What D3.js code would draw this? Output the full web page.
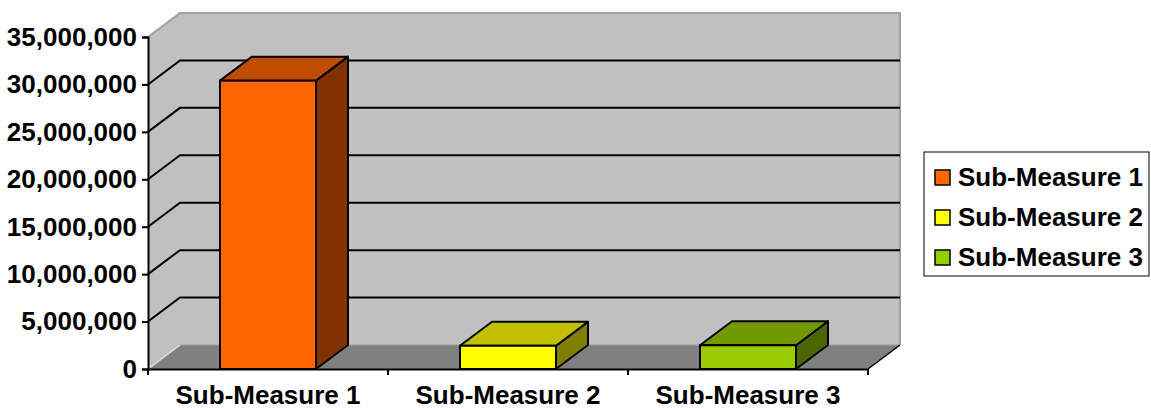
<!DOCTYPE html>
<html>
<head>
<meta charset="utf-8">
<script src="https://cdn.jsdelivr.net/npm/d3@7"></script>
<style>
  body { margin: 0; background: #ffffff; }
  text { font-family: "Liberation Sans", Arial, sans-serif; font-weight: bold; }
</style>
</head>
<body>
<div id="chart"></div>
<script>
// chart data
var categories = ['Sub-Measure 1', 'Sub-Measure 2', 'Sub-Measure 3'];
var values = [30400000, 2450000, 2500000];
var yTicks = [0, 5000000, 10000000, 15000000, 20000000, 25000000, 30000000, 35000000];

// colours: front, top, side
var colors = [
  {front: '#FF6600', top: '#C04C00', side: '#803300'},
  {front: '#FFFF00', top: '#C0C000', side: '#808000'},
  {front: '#99CC00', top: '#739900', side: '#4D6600'}
];

var width = 1151, height = 409;
var plotLeft = 148, plotRight = 868, plotBottom = 369, plotTop = 37;
var dx = 32, dy = -24;   // depth offset of the 3D box
var fontSize = '26px';

var svg = d3.select('#chart').append('svg')
  .attr('width', width)
  .attr('height', height);

var x = d3.scaleBand().domain(categories).range([plotLeft, plotRight])
  .paddingInner(0.6).paddingOuter(0.3);
var y = d3.scaleLinear().domain([0, 35000000]).range([plotBottom, plotTop]);

function pts(a) { return a.map(function(p) { return p.join(','); }).join(' '); }

var yMax = y(35000000);

// left side wall
svg.append('polygon')
  .attr('points', pts([[plotLeft, yMax], [plotLeft + dx, yMax + dy], [plotLeft + dx, plotBottom + dy], [plotLeft, plotBottom]]))
  .attr('fill', '#C0C0C0');

// back wall
svg.append('polygon')
  .attr('points', pts([[plotLeft + dx, yMax + dy], [plotRight + dx, yMax + dy], [plotRight + dx, plotBottom + dy], [plotLeft + dx, plotBottom + dy]]))
  .attr('fill', '#C0C0C0');

// floor
svg.append('polygon')
  .attr('points', pts([[plotLeft, plotBottom], [plotLeft + dx, plotBottom + dy], [plotRight + dx, plotBottom + dy], [plotRight, plotBottom]]))
  .attr('fill', '#808080');

// wall edges
svg.append('polyline')
  .attr('points', pts([[plotLeft, yMax], [plotLeft + dx, yMax + dy], [plotRight + dx, yMax + dy], [plotRight + dx, plotBottom + dy]]))
  .attr('fill', 'none').attr('stroke', '#A0A0A0').attr('stroke-width', 2);
svg.append('line')
  .attr('x1', plotLeft).attr('y1', plotBottom).attr('x2', plotLeft + dx).attr('y2', plotBottom + dy)
  .attr('stroke', '#E0E0E0').attr('stroke-width', 1.5);
svg.append('line')
  .attr('x1', plotLeft + dx).attr('y1', plotBottom + dy).attr('x2', plotRight + dx).attr('y2', plotBottom + dy)
  .attr('stroke', '#A0A0A0').attr('stroke-width', 1);
svg.append('line')
  .attr('x1', plotRight).attr('y1', plotBottom).attr('x2', plotRight + dx).attr('y2', plotBottom + dy)
  .attr('stroke', '#000').attr('stroke-width', 1.5);

// gridlines on side and back wall
var grid = yTicks.filter(function(d) { return d > 0 && d < 35000000; });
svg.append('g').selectAll('polyline')
  .data(grid)
  .enter().append('polyline')
  .attr('points', function(d) {
    return pts([[plotLeft, y(d)], [plotLeft + dx, y(d) + dy], [plotRight + dx, y(d) + dy]]);
  })
  .attr('fill', 'none')
  .attr('stroke', '#000')
  .attr('stroke-width', 2);

// bars
var bars = svg.append('g').selectAll('g')
  .data(values)
  .enter().append('g');

bars.append('polygon')
  .attr('points', function(d, i) {
    var x0 = x(categories[i]), x1 = x0 + x.bandwidth();
    return pts([[x1, y(d)], [x1 + dx, y(d) + dy], [x1 + dx, plotBottom + dy], [x1, plotBottom]]);
  })
  .attr('fill', function(d, i) { return colors[i].side; })
  .attr('stroke', '#000').attr('stroke-width', 2).attr('stroke-linejoin', 'round');

bars.append('polygon')
  .attr('points', function(d, i) {
    var x0 = x(categories[i]), x1 = x0 + x.bandwidth();
    return pts([[x0, y(d)], [x0 + dx, y(d) + dy], [x1 + dx, y(d) + dy], [x1, y(d)]]);
  })
  .attr('fill', function(d, i) { return colors[i].top; })
  .attr('stroke', '#000').attr('stroke-width', 2).attr('stroke-linejoin', 'round');

bars.append('rect')
  .attr('x', function(d, i) { return x(categories[i]); })
  .attr('y', function(d) { return y(d); })
  .attr('width', x.bandwidth())
  .attr('height', function(d) { return plotBottom - y(d); })
  .attr('fill', function(d, i) { return colors[i].front; })
  .attr('stroke', '#000').attr('stroke-width', 2);

// y axis
var yAxis = svg.append('g')
  .attr('transform', 'translate(' + plotLeft + ',0)')
  .call(d3.axisLeft(y).tickValues(yTicks).tickSize(6).tickPadding(5)
    .tickFormat(d3.format(',')));
yAxis.select('.domain').attr('stroke', '#000').attr('stroke-width', 2);
yAxis.selectAll('.tick line').attr('stroke', '#000').attr('stroke-width', 2);
yAxis.selectAll('text')
  .style('font-size', fontSize)
  .style('font-weight', 'bold')
  .attr('fill', '#000');

// x axis with ticks at category boundaries
var xAxis = svg.append('g')
  .attr('transform', 'translate(0,' + plotBottom + ')')
  .call(d3.axisBottom(x).tickSize(0).tickPadding(17));
xAxis.select('.domain').attr('stroke', '#000').attr('stroke-width', 2);
xAxis.selectAll('text')
  .style('font-size', fontSize)
  .style('font-weight', 'bold')
  .attr('fill', '#000');
var bounds = categories.map(function(c) { return x(c) - x.step() * x.paddingOuter(); });
bounds.push(plotRight);
xAxis.selectAll('.bound')
  .data(bounds)
  .enter().append('line')
  .attr('class', 'bound')
  .attr('x1', function(d) { return d; }).attr('x2', function(d) { return d; })
  .attr('y1', 0).attr('y2', 6)
  .attr('stroke', '#000').attr('stroke-width', 2);

// legend
var legend = svg.append('g').attr('transform', 'translate(924,152)');
legend.append('rect')
  .attr('width', 225).attr('height', 124)
  .attr('fill', '#fff').attr('stroke', '#000').attr('stroke-width', 1);
var items = legend.selectAll('.item')
  .data(categories)
  .enter().append('g')
  .attr('class', 'item')
  .attr('transform', function(d, i) { return 'translate(11,' + (25 + i * 40) + ')'; });
items.append('rect')
  .attr('x', 0).attr('y', -7).attr('width', 15).attr('height', 15)
  .attr('fill', function(d, i) { return colors[i].front; })
  .attr('stroke', '#000').attr('stroke-width', 1.5);
items.append('text')
  .attr('x', 23).attr('y', 0).attr('dy', '0.35em')
  .style('font-size', fontSize)
  .text(function(d) { return d; });
</script>
</body>
</html>
